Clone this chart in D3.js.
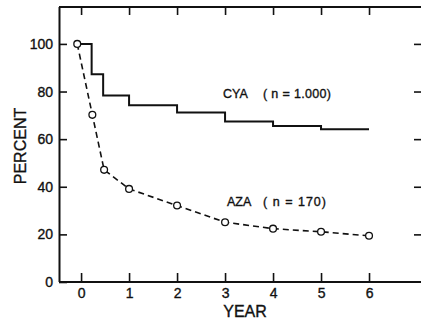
<!DOCTYPE html>
<html>
<head>
<meta charset="utf-8">
<script src="https://cdn.jsdelivr.net/npm/d3@7"></script>
<style>
  html, body { margin: 0; padding: 0; background: #fff; }
  svg { display: block; }
  text { font-family: "Liberation Sans", Arial, Helvetica, sans-serif; fill: #111; stroke: #111; stroke-width: 0.35px; }
</style>
</head>
<body>
<svg id="chart" width="421" height="324"></svg>
<script>
// ---- data ----
const cyaYears  = [-0.08, 0.22, 0.46, 1, 2, 3, 4, 5, 6];
const cyaValues = [100, 87.3, 78.3, 74.2, 71.2, 67.4, 65.5, 64.2, 64.2];
const azaYears  = [-0.08, 0.235, 0.48, 1, 2, 3, 4, 5, 6];
const azaValues = [100, 70.2, 47.1, 39.1, 32.1, 25.1, 22.4, 21.1, 19.4];
const xTickValues = [0, 1, 2, 3, 4, 5, 6];
const yTickValues = [0, 20, 40, 60, 80, 100];
const cyaLabel = ["CYA", "( n = 1.000)"];
const azaLabel = ["AZA", "( n = 170)"];

const svg = d3.select("#chart");
const mLeft = 59, mRight = 421, mTop = 7, mBottom = 282;

const x = d3.scaleLinear().domain([-0.46, 7.083]).range([mLeft, mRight]);
const y = d3.scaleLinear().domain([0, 115.5]).range([mBottom, mTop]);

const ink = "#111";

// left axis
const gL = svg.append("g").attr("transform", `translate(${mLeft},0)`)
  .call(d3.axisLeft(y).tickValues(yTickValues).tickSizeInner(-8).tickSizeOuter(0).tickPadding(6));
// bottom axis
const gB = svg.append("g").attr("transform", `translate(0,${mBottom})`)
  .call(d3.axisBottom(x).tickValues(xTickValues).tickSizeInner(-9).tickSizeOuter(0).tickPadding(6));
// top axis (no labels)
const gT = svg.append("g").attr("transform", `translate(0,${mTop})`)
  .call(d3.axisTop(x).tickValues(xTickValues).tickSizeInner(-8).tickSizeOuter(0).tickFormat(""));
// right ticks (no labels, no spine)
const gR = svg.append("g").attr("transform", `translate(${mRight},0)`)
  .call(d3.axisRight(y).tickValues(yTickValues.filter(v => v > 0)).tickSizeInner(-7).tickSizeOuter(0).tickFormat(""));
gR.select(".domain").remove();

[gL, gB, gT, gR].forEach(g => {
  g.selectAll(".domain").attr("stroke", ink).attr("stroke-width", 2);
  g.selectAll(".tick line").attr("stroke", ink).attr("stroke-width", 1.6);
  g.selectAll(".tick text").attr("font-size", 14).style("fill", ink);
});
gL.selectAll(".domain").attr("d", `M0.5,${mTop}V${mBottom}`);
gB.selectAll(".domain").attr("d", `M${mLeft},0H${mRight}`);
gT.selectAll(".domain").attr("d", `M${mLeft},0H${mRight}`);

// axis titles
svg.append("text")
  .attr("transform", `translate(26,146) rotate(-90)`)
  .attr("text-anchor", "middle")
  .attr("font-size", 16)
  .text("PERCENT");
svg.append("text")
  .attr("x", 245).attr("y", 317)
  .attr("text-anchor", "middle")
  .attr("font-size", 16)
  .text("YEAR");

// CYA step line
const cya = cyaYears.map((t, i) => [t, cyaValues[i]]);
svg.append("path")
  .datum(cya)
  .attr("fill", "none").attr("stroke", ink).attr("stroke-width", 2)
  .attr("d", d3.line().x(d => x(d[0])).y(d => y(d[1])).curve(d3.curveStepAfter));

// AZA dashed line with open circles
const aza = azaYears.map((t, i) => [t, azaValues[i]]);
svg.append("path")
  .datum(aza)
  .attr("fill", "none").attr("stroke", ink).attr("stroke-width", 1.6)
  .attr("stroke-dasharray", "6,4")
  .attr("d", d3.line().x(d => x(d[0])).y(d => y(d[1])));
svg.selectAll("circle.aza").data(aza).enter().append("circle")
  .attr("class", "aza")
  .attr("cx", d => x(d[0])).attr("cy", d => y(d[1]))
  .attr("r", 3.4)
  .attr("fill", "#fff").attr("stroke", ink).attr("stroke-width", 1.3);

// series labels
function label(parts, x1, x2, w2, yy) {
  svg.append("text").attr("x", x1).attr("y", yy).attr("font-size", 12.5).text(parts[0]);
  svg.append("text").attr("x", x2).attr("y", yy).attr("font-size", 12.5)
    .attr("textLength", w2).attr("lengthAdjust", "spacing").text(parts[1]);
}
label(cyaLabel, 223, 263, 68, 98);
label(azaLabel, 227, 263, 63, 206);
</script>
</body>
</html>
